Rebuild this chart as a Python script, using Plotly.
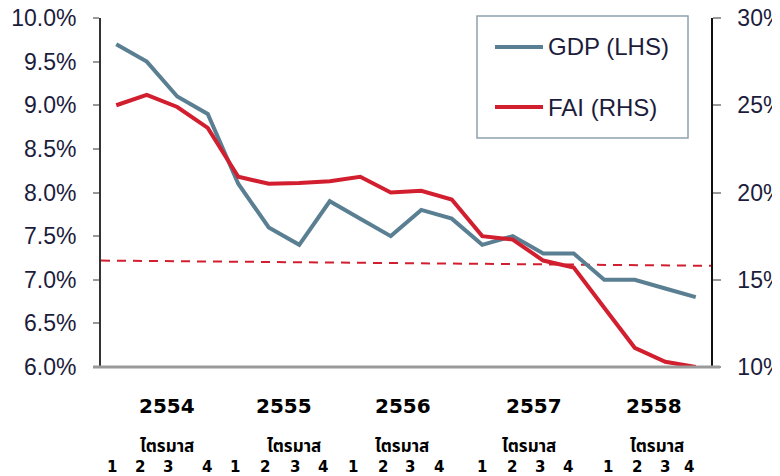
import plotly.graph_objects as go

# ---- data ----
years = ["2554", "2555", "2556", "2557", "2558"]
quarter_word = "ไตรมาส"
quarter_labels = ["1", "2", "3", "4", "1", "2", "3", "4", "1", "2", "3", "4",
                  "1", "2", "3", "4", "1", "2", "3", "4"]
gdp = [9.7, 9.5, 9.1, 8.9, 8.1, 7.6, 7.4, 7.9, 7.7, 7.5, 7.8, 7.7,
       7.4, 7.5, 7.3, 7.3, 7.0, 7.0, 6.9, 6.8]
fai = [25.0, 25.6, 24.9, 23.7, 20.9, 20.5, 20.55, 20.65, 20.9, 20.0, 20.1, 19.6,
       17.5, 17.3, 16.1, 15.7, 13.4, 11.1, 10.3, 10.0]
trend_lhs = [7.22, 7.16]   # dashed reference line (LHS scale), start / end
left_ticks = [6.0, 6.5, 7.0, 7.5, 8.0, 8.5, 9.0, 9.5, 10.0]
right_ticks = [10, 15, 20, 25, 30]

# ---- layout geometry (page pixels; page body has an 8px offset) ----
OFF = 8
W, H = 780 - OFF, 476 - OFF
L, R, T, B = 101, 711, 18, 367          # plot area in page pixels
pw, ph = R - L, B - T
def px(x): return (x - L) / pw
def py(y): return (B - y) / ph

year_px = [167, 284, 403, 534, 654]
qword_px = [167, 294, 402, 529, 657]
q_px = [112, 140, 168, 207, 235, 265, 295, 323, 353, 383, 410, 439,
        482, 512, 540, 568, 608, 637, 665, 689]

GDP_C = "#5a7f92"
FAI_C = "#d21f2f"
TXT = "#1c1c3c"
FONT = "Liberation Sans, Arial, sans-serif"
BFONT = "DejaVu Sans, Verdana, sans-serif"

xs = list(range(len(gdp)))

fig = go.Figure()
fig.add_trace(go.Scatter(x=[-0.5, len(gdp) - 0.5], y=trend_lhs, mode="lines",
                         line=dict(color=FAI_C, width=2, dash="9px,7px"),
                         showlegend=False, hoverinfo="skip"))
fig.add_trace(go.Scatter(x=xs, y=fai, yaxis="y2", mode="lines", name="FAI (RHS)",
                         line=dict(color=FAI_C, width=4), showlegend=False))
fig.add_trace(go.Scatter(x=xs, y=gdp, mode="lines", name="GDP (LHS)",
                         line=dict(color=GDP_C, width=4), showlegend=False))

shapes = []
annotations = []

# bottom axis (gray, extends past both vertical axes)
shapes.append(dict(type="line", xref="paper", yref="paper", x0=px(93), x1=px(720),
                   y0=0, y1=0, line=dict(color="#9a9a9a", width=3)))

# manual legend
shapes.append(dict(type="rect", xref="paper", yref="paper", x0=px(477), x1=px(688),
                   y0=py(16), y1=py(138), line=dict(color="#8fa2ad", width=1.5),
                   fillcolor="white", layer="below"))
for yy, c, name in [(47, GDP_C, "GDP (LHS)"), (107, FAI_C, "FAI (RHS)")]:
    shapes.append(dict(type="line", xref="paper", yref="paper", x0=px(495), x1=px(543),
                       y0=py(yy), y1=py(yy), line=dict(color=c, width=4)))
    annotations.append(dict(xref="paper", yref="paper", x=px(546), y=py(yy),
                            xanchor="left", yanchor="middle", text=name, showarrow=False,
                            font=dict(family=FONT, size=24, color=TXT)))

# x labels
for x, t in zip(year_px, years):
    annotations.append(dict(xref="paper", yref="paper", x=px(x), y=py(406),
                            xanchor="center", yanchor="middle", text="<b>%s</b>" % t,
                            showarrow=False, font=dict(family=BFONT, size=20, color="black")))
for x in qword_px:
    annotations.append(dict(xref="paper", yref="paper", x=px(x), y=py(447),
                            xanchor="center", yanchor="middle", text="<b>%s</b>" % quarter_word,
                            showarrow=False, font=dict(family="Noto Sans Thai, Tahoma, DejaVu Sans, sans-serif",
                                                       size=17, color="black")))
for x, t in zip(q_px, quarter_labels):
    annotations.append(dict(xref="paper", yref="paper", x=px(x), y=py(467),
                            xanchor="center", yanchor="middle", text="<b>%s</b>" % t,
                            showarrow=False, font=dict(family=BFONT, size=15, color="black")))

fig.update_layout(
    width=W, height=H,
    margin=dict(l=L - OFF, r=W - (R - OFF), t=T - OFF, b=H - (B - OFF), pad=0, autoexpand=False),
    paper_bgcolor="white", plot_bgcolor="white",
    showlegend=False,
    xaxis=dict(range=[-0.5, len(gdp) - 0.5], showticklabels=False, showgrid=False,
               zeroline=False, showline=False, ticks="", automargin=False),
    yaxis=dict(range=[6, 10], tickvals=left_ticks,
               ticktext=["%.1f%%" % v for v in left_ticks],
               showgrid=False, zeroline=False, showline=True, linecolor="#333333", linewidth=2,
               ticks="outside", ticklen=6, tickcolor="#999999", tickwidth=2,
               ticklabelstandoff=12, automargin=False, ticklabeloverflow="allow",
               tickfont=dict(family=FONT, size=23, color=TXT)),
    yaxis2=dict(range=[10, 30], tickvals=right_ticks,
                ticktext=["%d%%" % v for v in right_ticks],
                overlaying="y", side="right",
                showgrid=False, zeroline=False, showline=True, linecolor="#111111", linewidth=1.5,
                ticks="outside", ticklen=8, tickcolor="#999999", tickwidth=2,
                ticklabelstandoff=12, automargin=False, ticklabeloverflow="allow",
                tickfont=dict(family=FONT, size=23, color=TXT)),
    shapes=shapes,
    annotations=annotations,
)

fig.write_html("out.html")
